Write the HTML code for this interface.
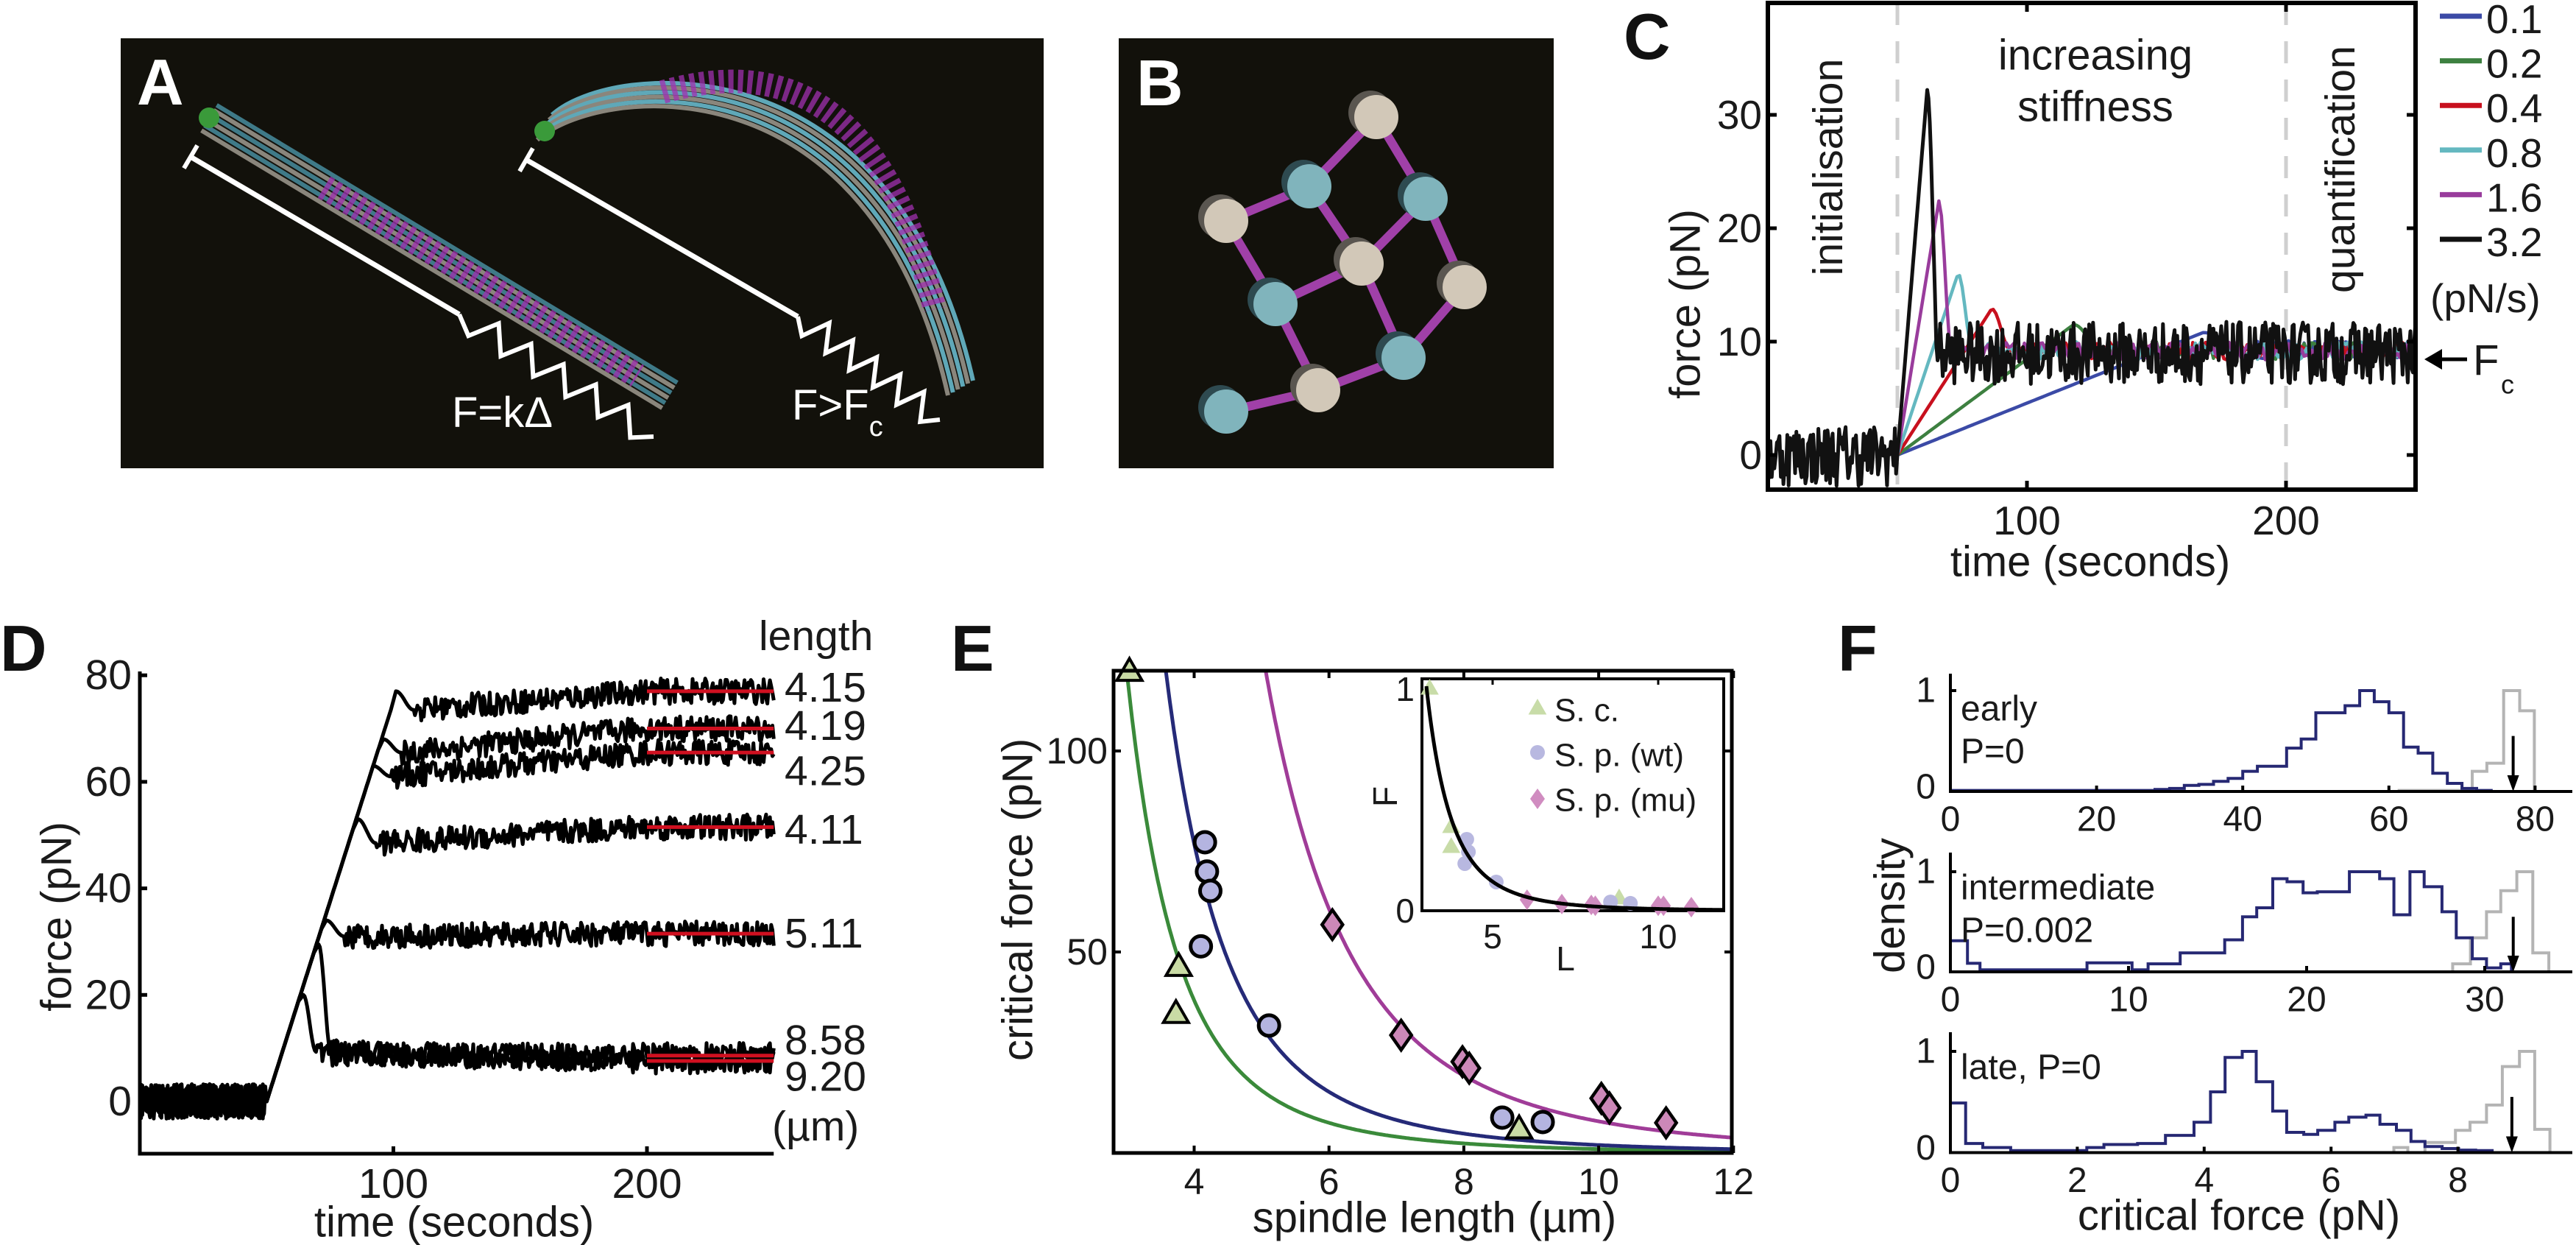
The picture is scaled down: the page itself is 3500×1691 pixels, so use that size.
<!DOCTYPE html>
<html><head><meta charset="utf-8"><title>Spindle mechanics figure</title>
<style>
html,body{margin:0;padding:0;background:#fff;}
svg{display:block;font-family:"Liberation Sans",Arial,sans-serif;}
</style></head>
<body>
<svg id="fig" xmlns="http://www.w3.org/2000/svg" width="3500" height="1691" viewBox="0 0 3500 1691">
  <rect x="0" y="0" width="3500" height="1691" fill="#ffffff"/>
  <g id="panelA">
    <rect x="164" y="52" width="1254" height="584" fill="#12110b"/>
    <text x="186" y="142" font-size="88" font-weight="bold" fill="#fff">A</text>
    <text x="614" y="580" font-size="58" fill="#fff">F=kΔ</text>
    <text x="1076" y="570" font-size="58" fill="#fff">F&gt;F<tspan font-size="38" dy="22">c</tspan></text>
  </g>
  <g id="panelB">
    <rect x="1520" y="52" width="591" height="584" fill="#12110b"/>
    <text x="1544" y="143" font-size="88" font-weight="bold" fill="#fff">B</text>
  </g>
  <g id="panelC">
    <text x="2206" y="80" font-size="88" font-weight="bold" fill="#111">C</text>
  </g>
  <g id="panelD">
    <text x="0" y="911" font-size="88" font-weight="bold" fill="#111">D</text>
  </g>
  <g id="panelE">
    <text x="1292" y="911" font-size="88" font-weight="bold" fill="#111">E</text>
  </g>
  <g id="panelF">
    <text x="2497" y="911" font-size="88" font-weight="bold" fill="#111">F</text>
  </g>
</svg>
<script>
// ---------------- data ----------------
// Panel C
const cRates = ["0.1","0.2","0.4","0.8","1.6","3.2"];
const cPeakTimes = [168, 118, 86.4, 73.4, 66, 61.5];
const cPeakForces = [10.8, 11.5, 12.9, 16, 22.4, 32.2];
const cPlateau = [9.3, 9.2, 9.2, 9.2, 9.2, 9.0];
const cColors = ["#3b4aa6","#3d8040","#c8101e","#64b8c0","#993c9c","#111111"];
const cYTicks = [0, 10, 20, 30];
const cXTicks = [100, 200];
const cPhaseBounds = [50, 200];
// Panel D
const dLengths = ["4.15","4.19","4.25","4.11","5.11","8.58","9.20"];
const dPeakForces = [77, 68, 63, 53, 34, 29.5, 20];
const dPeakTimes = [101, 96, 92, 86, 73.5, 70.5, 64.5];
const dDipForces = [73.5, 65.5, 61, 48.5, 31, 8.8, 9.3];
const dPlateaus = [77, 70, 65.5, 51.5, 31.5, 8.6, 7.6];
const dLabelPos = [77.7, 70.5, 62, 51, 31.5, 11.5, 4.6];
const dYTicks = [0, 20, 40, 60, 80];
const dXTicks = [100, 200];
// Panel E
const eTriL = [3.04, 3.77, 3.73, 8.82];
const eTriF = [119.7, 46.3, 34.6, 5.9];
const eCircL = [4.16, 4.19, 4.24, 4.10, 5.11, 8.57, 9.17];
const eCircF = [77.3, 70.0, 65.2, 51.4, 31.7, 8.8, 7.7];
const eDiaL = [6.05, 7.07, 7.98, 8.08, 10.04, 10.16, 11.0];
const eDiaF = [56.8, 29.3, 22.7, 21.1, 13.6, 11.2, 7.5];
const eFitA = [9720, 19700, 78700];
const eFitColors = ["#3a8a3a","#252a78","#a03c98"];
const eXTicks = [4, 6, 8, 10, 12];
const eYTicks = [50, 100];
const insTriL = [3.1, 3.75, 3.75, 8.82];
const insTriF = [0.99, 0.374, 0.285, 0.056];
const insCircL = [4.22, 4.27, 4.16, 5.11, 8.56, 9.16];
const insCircF = [0.318, 0.262, 0.21, 0.128, 0.039, 0.033];
const insDiaL = [6.04, 7.09, 7.98, 8.1, 10.0, 10.16, 11.0];
const insDiaF = [0.049, 0.03, 0.026, 0.022, 0.022, 0.022, 0.016];
const insXTicks = [5, 10];
const insYTicks = [0, 1];
// Panel F
const fNames = ["early","intermediate","late"];
const fTexts = [["early","P=0"],["intermediate","P=0.002"],["late, P=0"]];
const fXTicks = [[0,20,40,60,80],[0,10,20,30],[0,2,4,6,8]];
const fBlueEdges = [
  [0,28,30,32,34,36,38,40,42,44,46,48,50,52,54,56,58,60,62,64,66,68,70,72,74,80],
  [0,0.96,1.66,7.67,10.2,11.1,12.9,15.4,16.4,17.2,18.1,18.9,19.8,20.6,22.4,24.1,24.9,25.8,26.6,27.6,28.4,29.3,30.1,30.9,31.5,34],
  [0,0.24,0.51,0.95,2.15,2.42,2.95,3.39,3.84,4.1,4.33,4.6,4.82,5.08,5.3,5.57,5.79,6.06,6.28,6.55,6.77,7.03,7.26,7.48,7.75,8.01,8.28,8.54]
];
const fBlueHeights = [
  [0.01,0.02,0.03,0.06,0.07,0.10,0.13,0.2,0.25,0.25,0.43,0.52,0.78,0.78,0.85,1.0,0.89,0.78,0.44,0.38,0.18,0.08,0.03,0.01,0],
  [0.31,0.085,0.02,0.09,0.02,0.08,0.19,0.32,0.55,0.64,0.93,0.9,0.79,0.8,1.0,0.93,0.57,1.0,0.85,0.6,0.34,0.13,0.04,0.08,0],
  [0.49,0.09,0.05,0.02,0.05,0.08,0.09,0.17,0.3,0.6,0.94,1.0,0.7,0.41,0.2,0.18,0.22,0.3,0.35,0.37,0.28,0.22,0.11,0.06,0.04,0.025,0.02]
];
const fGrayEdges = [
  [61.4,71.4,73.4,75.7,77.9,79.9],
  [28.2,29.2,30.1,30.9,31.8,32.7,33.6],
  [6.99,7.21,7.48,7.96,8.19,8.45,8.70,8.97,9.21,9.45]
];
const fGrayHeights = [
  [0.01,0.2,0.28,1.0,0.8],
  [0.08,0.34,0.6,0.81,1.0,0.19],
  [0.05,0,0.1,0.22,0.3,0.47,0.85,1.0,0.23]
];
const fMarked = [77, 31.6, 8.85];

// ---------------- helpers ----------------
const NS = "http://www.w3.org/2000/svg";
function mk(tag, attrs, parent) {
  const e = document.createElementNS(NS, tag);
  for (const k in attrs) e.setAttribute(k, attrs[k]);
  parent.appendChild(e);
  return e;
}
function tx(x, y, s, size, anchor, parent, extra) {
  const a = {x: x, y: y, "font-size": size, "text-anchor": anchor || "start", "dominant-baseline": "central", fill: "#1a1a1a"};
  if (extra) for (const k in extra) a[k] = extra[k];
  const e = mk("text", a, parent);
  e.textContent = s;
  return e;
}
// deterministic texture for measurement noise (visual only)
let seed = 12345;
function jitter() { seed = (seed * 16807) % 2147483647; return seed / 2147483647 - 0.5; }
function pathFrom(pts) { return pts.map((p, i) => (i ? "L" : "M") + p[0].toFixed(1) + "," + p[1].toFixed(1)).join(""); }

// ---------------- Panel A decoration ----------------
(function () {
  const g = document.getElementById("panelA");
  const P0 = [284, 160], P1 = [910, 537];
  const dx = P1[0] - P0[0], dy = P1[1] - P0[1], L = Math.hypot(dx, dy);
  const nx = -dy / L, ny = dx / L;
  const offs = [-20, -12, -4, 4, 12, 20];
  offs.forEach((o, i) => {
    const e = mk("line", {x1: P0[0] + nx * o, y1: P0[1] + ny * o, x2: P1[0] + nx * o, y2: P1[1] + ny * o, stroke: i % 2 ? "#8a867c" : "#3f7a88", "stroke-width": 6}, g);
    
    
  });
  const m1 = mk("line", {x1: P0[0] + dx * 0.25, y1: P0[1] + dy * 0.25, x2: P0[0] + dx * 0.93, y2: P0[1] + dy * 0.93, stroke: "#a030b0", "stroke-width": 34, "stroke-dasharray": "7 6", opacity: 0.75}, g);
  
  
  const gr1 = mk("circle", {cx: P0[0], cy: P0[1], r: 14, fill: "#3a9a3a"}, g);
  
  
  const bent = (o) => "M" + (740 - 0.5 * o) + "," + (173 + 0.85 * o) + " C" + (820 - 0.5 * o) + "," + (100 + 0.85 * o) + " " + (1200 - 0.8 * o) + "," + (60 + 0.6 * o) + " " + (1305 - 0.85 * o) + "," + (527 + 0.5 * o);
  offs.forEach((o, i) => {
    const e = mk("path", {d: bent(o), fill: "none", stroke: i % 2 ? "#8a867c" : "#5fa8b8", "stroke-width": 6}, g);
    
    
  });
  const m2 = mk("path", {d: "M900,125 C1060,80 1200,130 1270,420", fill: "none", stroke: "#a030b0", "stroke-width": 32, "stroke-dasharray": "7 6", opacity: 0.75}, g);
  
  
  const gr2 = mk("circle", {cx: 740, cy: 178, r: 14, fill: "#3a9a3a"}, g);
  
  
  const bars = [[[259, 213], [624, 427], [888, 593]], [[715, 217], [1084, 430], [1277, 570]]];
  bars.forEach((b, bi) => {
    const e = mk("line", {x1: b[0][0], y1: b[0][1], x2: b[1][0], y2: b[1][1], stroke: "#fff", "stroke-width": 7}, g);
    
    
    const ux = b[1][0] - b[0][0], uy = b[1][1] - b[0][1], ul = Math.hypot(ux, uy);
    const px = -uy / ul * 18, py = ux / ul * 18;
    const t = mk("line", {x1: b[0][0] - px, y1: b[0][1] - py, x2: b[0][0] + px, y2: b[0][1] + py, stroke: "#fff", "stroke-width": 6}, g);
    
    
    const pts = [];
    const sx = b[2][0] - b[1][0], sy = b[2][1] - b[1][1], sl = Math.hypot(sx, sy);
    const qx = -sy / sl, qy = sx / sl, n = 12;
    for (let k = 0; k <= n; k++) {
      const a = (k === 0 || k === n) ? 0 : (k % 2 ? 18 : -18);
      pts.push([b[1][0] + sx * k / n + qx * a, b[1][1] + sy * k / n + qy * a]);
    }
    const s = mk("path", {d: pathFrom(pts), fill: "none", stroke: "#fff", "stroke-width": 6}, g);
    
    
  });
})();

// ---------------- Panel B decoration ----------------
(function () {
  const g = document.getElementById("panelB");
  const nodes = [[1870,159,0],[1779,253,1],[1937,270,1],[1666,300,0],[1850,358,0],[1733,413,1],[1990,390,0],[1907,486,1],[1791,530,0],[1666,559,1]];
  const edges = [[0,1],[0,2],[1,3],[1,4],[2,4],[2,6],[3,5],[4,5],[4,7],[6,7],[5,8],[7,8],[8,9]];
  edges.forEach(ed => {
    const a = nodes[ed[0]], b = nodes[ed[1]];
    const e = mk("line", {x1: a[0], y1: a[1], x2: b[0], y2: b[1], stroke: "#a040a8", "stroke-width": 12}, g);
    
    
  });
  nodes.forEach(n => {
    const sh = mk("ellipse", {cx: n[0] - 8, cy: n[1] - 6, rx: 30, ry: 30, fill: n[2] ? "#2e4a50" : "#5a5650"}, g);
    
    
    const c = mk("ellipse", {cx: n[0], cy: n[1], rx: 30, ry: 30, fill: n[2] ? "#80b4bc" : "#d2c8b8"}, g);
    
    
  });
})();

// ---------------- Panel C ----------------
(function () {
  const g = document.getElementById("panelC");
  const X = t => 2402 + t * 3.52;
  const Y = f => 618 - f * 15.4;
  const left = X(0), right = X(250), top = 4, bottom = 665;
  cPhaseBounds.forEach(t => {
    const e = mk("line", {x1: X(t), y1: top, x2: X(t), y2: bottom, stroke: "#cfcfcf", "stroke-width": 5, "stroke-dasharray": "30 22"}, g);
    
    
  });
  function base(i, t) {
    const tp = cPeakTimes[i], fp = cPeakForces[i], pl = cPlateau[i];
    const d = 3 + 0.12 * (tp - 50);
    if (t <= 50) return 0;
    if (t <= tp) return fp * (t - 50) / (tp - 50);
    if (t <= tp + d) { const u = (t - tp) / d; return pl + (fp - pl) * (0.5 + 0.5 * Math.cos(Math.PI * u)); }
    return pl;
  }
  for (let i = 0; i < cRates.length; i++) {
    const pts = [];
    const isBlack = i === cRates.length - 1;
    for (let t = 0; t <= 250; t += isBlack ? 0.5 : 1) {
      let f = base(i, t);
      const tp = cPeakTimes[i];
      if (isBlack) { if (t < 50 || t > tp + 3) f += jitter() * 5.5; }
      else if (t > tp + 4 + 0.12 * (tp - 50)) f += jitter() * 1.6;
      if (!isBlack && t < 50) continue;
      pts.push([X(t), Y(f)]);
    }
    const e = mk("path", {d: pathFrom(pts), fill: "none", stroke: cColors[i], "stroke-width": isBlack ? 5 : 4.5, "stroke-linejoin": "round"}, g);
    
    
  }
  const box = mk("rect", {x: left, y: top, width: right - left, height: bottom - top, fill: "none", stroke: "#000", "stroke-width": 6}, g);
  
  
  cYTicks.forEach(v => {
    const a = mk("line", {x1: left, y1: Y(v), x2: left + 12, y2: Y(v), stroke: "#000", "stroke-width": 5}, g);
    
    
    const b = mk("line", {x1: right, y1: Y(v), x2: right - 12, y2: Y(v), stroke: "#000", "stroke-width": 5}, g);
    
    
    const l = tx(left - 8, Y(v), String(v), 55, "end", g);
    
    
  });
  cXTicks.forEach(v => {
    const a = mk("line", {x1: X(v), y1: bottom, x2: X(v), y2: bottom - 12, stroke: "#000", "stroke-width": 5}, g);
    
    
    const b = mk("line", {x1: X(v), y1: top, x2: X(v), y2: top + 12, stroke: "#000", "stroke-width": 5}, g);
    
    
    const l = tx(X(v), 707, String(v), 55, "middle", g);
    
    
  });
  let e = tx(2840, 763, "time (seconds)", 58, "middle", g);
  
  
  e = tx(0, 0, "force (pN)", 58, "middle", g, {transform: "translate(2290,413) rotate(-90)"});
  
  
  e = tx(0, 0, "initialisation", 57, "middle", g, {transform: "translate(2484,227) rotate(-90)"});
  
  
  e = tx(0, 0, "quantification", 57, "middle", g, {transform: "translate(3180,230) rotate(-90)"});
  
  
  e = tx(2847, 75, "increasing", 58, "middle", g);
  
  
  e = tx(2847, 145, "stiffness", 58, "middle", g);
  
  
  cRates.forEach((r, i) => {
    const y = 22 + i * 60.6;
    const ln = mk("line", {x1: 3315, y1: y, x2: 3372, y2: y, stroke: cColors[i], "stroke-width": 7}, g);
    
    
    const t = tx(3378, y + 4, r, 55, "start", g);
    
    
  });
  e = tx(3302, 405, "(pN/s)", 55, "start", g);
  
  
  e = mk("line", {x1: 3310, y1: 488, x2: 3352, y2: 488, stroke: "#000", "stroke-width": 5}, g);
  
  
  e = mk("path", {d: "M3294,488 L3318,474 L3318,502 Z", fill: "#000"}, g);
  
  
  e = tx(3360, 490, "F", 58, "start", g);
  
  
  e = tx(3398, 522, "c", 36, "start", g);
  
  
})();

// ---------------- Panel D ----------------
(function () {
  const g = document.getElementById("panelD");
  const X = t => 190 + t * 3.445;
  const Y = f => 1496 - f * 7.235;
  const slope = 1.5;
  for (let i = 0; i < dLengths.length; i++) {
    const pts = [];
    const tp = dPeakTimes[i], fp = dPeakForces[i], fd = dDipForces[i], pl = dPlateaus[i];
    const sharp = fd < 15;
    const dt = sharp ? 5 : 7;
    for (let t = 0; t <= 250; t += 0.5) {
      let f;
      if (t < 50) f = jitter() * 6.5;
      else if (t <= tp - 2) f = Math.min(slope * (t - 50), fp);
      else if (t <= tp) f = slope * (tp - 2 - 50) + (fp - slope * (tp - 2 - 50)) * (t - tp + 2) / 2;
      else if (t <= tp + dt) { const u = (t - tp) / dt; f = fd + (fp - fd) * (0.5 + 0.5 * Math.cos(Math.PI * u)); }
      else if (t <= 200) { f = fd + (pl - fd) * (t - tp - dt) / (200 - tp - dt); f += jitter() * 4.6; }
      else f = pl + jitter() * 4.8;
      pts.push([X(t), Y(f)]);
    }
    const e = mk("path", {d: pathFrom(pts), fill: "none", stroke: "#000", "stroke-width": 5, "stroke-linejoin": "round"}, g);
    
    
  }
  dPlateaus.forEach((p, i) => {
    const e = mk("line", {x1: X(200), y1: Y(p), x2: X(250), y2: Y(p), stroke: "#d01020", "stroke-width": 5}, g);
    
    
    const l = tx(1066, Y(dLabelPos[i]), dLengths[i], 57, "start", g);
    
    
  });
  let e = tx(1031, 864, "length", 57, "start", g);
  
  
  e = tx(1049, 1530, "(µm)", 57, "start", g);
  
  
  e = mk("path", {d: "M" + X(0) + "," + 912 + " V1567 H" + X(250), fill: "none", stroke: "#000", "stroke-width": 5}, g);
  
  
  dYTicks.forEach(v => {
    const a = mk("line", {x1: X(0), y1: Y(v), x2: X(0) + 10, y2: Y(v), stroke: "#000", "stroke-width": 5}, g);
    
    
    const l = tx(179, Y(v), String(v), 57, "end", g);
    
    
  });
  dXTicks.forEach(v => {
    const a = mk("line", {x1: X(v), y1: 1567, x2: X(v), y2: 1557, stroke: "#000", "stroke-width": 5}, g);
    
    
    const l = tx(X(v), 1608, String(v), 57, "middle", g);
    
    
  });
  e = tx(617, 1660, "time (seconds)", 58, "middle", g);
  
  
  e = tx(0, 0, "force (pN)", 58, "middle", g, {transform: "translate(77,1245) rotate(-90)"});
  
  
})();

// ---------------- Panel E ----------------
(function () {
  const g = document.getElementById("panelE");
  const X = L => 1622.5 + (L - 4) * 91.6;
  const Y = F => 1566 - F * 5.46;
  const left = 1513, right = 2353, top = 911, bottom = 1566;
  const defs = mk("defs", {}, g);
  const cp = mk("clipPath", {id: "eclip"}, defs);
  mk("rect", {x: left, y: top, width: right - left, height: bottom - top}, cp);
  eFitA.forEach((A, i) => {
    const pts = [];
    for (let L = 2.8; L <= 12; L += 0.02) pts.push([X(L), Y(A / Math.pow(L, 4))]);
    const e = mk("path", {d: pathFrom(pts), fill: "none", stroke: eFitColors[i], "stroke-width": 5, "clip-path": "url(#eclip)"}, g);
    
    
  });
  function tri(x, y, s, fill, stroke, sw, name) {
    const e = mk("path", {d: "M" + x + "," + (y - s) + " L" + (x + s * 0.95) + "," + (y + s * 0.65) + " L" + (x - s * 0.95) + "," + (y + s * 0.65) + " Z", fill: fill, stroke: stroke, "stroke-width": sw}, g);
    
    
  }
  function dia(x, y, w, h, fill, stroke, sw, name) {
    const e = mk("path", {d: "M" + x + "," + (y - h) + " L" + (x + w) + "," + y + " L" + x + "," + (y + h) + " L" + (x - w) + "," + y + " Z", fill: fill, stroke: stroke, "stroke-width": sw}, g);
    
    
  }
  eTriL.forEach((L, i) => tri(X(L), Y(eTriF[i]), 18, "#c9dba5", "#000", 4, "sc-point"));
  eCircL.forEach((L, i) => {
    const e = mk("circle", {cx: X(L), cy: Y(eCircF[i]), r: 14, fill: "#b4b4e0", stroke: "#000", "stroke-width": 5}, g);
    
    
  });
  eDiaL.forEach((L, i) => dia(X(L), Y(eDiaF[i]), 14, 20, "#cc88b8", "#000", 4.5, "sp-mu-point"));
  let e = mk("rect", {x: left, y: top, width: right - left, height: bottom - top, fill: "none", stroke: "#000", "stroke-width": 5}, g);
  
  
  eXTicks.forEach(v => {
    const a = mk("line", {x1: X(v), y1: bottom, x2: X(v), y2: bottom - 10, stroke: "#000", "stroke-width": 4}, g);
    
    
    const b = mk("line", {x1: X(v), y1: top, x2: X(v), y2: top + 10, stroke: "#000", "stroke-width": 4}, g);
    
    
    const l = tx(X(v), 1605, String(v), 50, "middle", g);
    
    
  });
  eYTicks.forEach(v => {
    const a = mk("line", {x1: left, y1: Y(v), x2: left + 10, y2: Y(v), stroke: "#000", "stroke-width": 4}, g);
    
    
    const b = mk("line", {x1: right, y1: Y(v), x2: right - 10, y2: Y(v), stroke: "#000", "stroke-width": 4}, g);
    
    
    const l = tx(1505, Y(v), String(v), 50, "end", g);
    
    
  });
  e = tx(1949, 1654, "spindle length (µm)", 58, "middle", g);
  
  
  e = tx(0, 0, "critical force (pN)", 58, "middle", g, {transform: "translate(1383,1222) rotate(-90)"});
  
  
  const XI = L => 1803 + L * 45;
  const YI = F => 1237 - F * 305;
  e = mk("rect", {x: 1932, y: 922, width: 410, height: 315, fill: "#fff", stroke: "#000", "stroke-width": 4}, g);
  
  
  insTriL.forEach((L, i) => tri(XI(L), YI(insTriF[i]), 13, "#c8dca8", "none", 0, "inset-sc-point"));
  insCircL.forEach((L, i) => {
    const c = mk("circle", {cx: XI(L), cy: YI(insCircF[i]), r: 10, fill: "#b8b8e0"}, g);
    
    
  });
  insDiaL.forEach((L, i) => dia(XI(L), YI(insDiaF[i]), 10, 14, "#d08cc0", "none", 0, "inset-sp-mu-point"));
  const ipts = [];
  for (let L = 3.0; L <= 11.95; L += 0.02) ipts.push([XI(L), YI(Math.pow(3 / L, 4))]);
  e = mk("path", {d: pathFrom(ipts), fill: "none", stroke: "#000", "stroke-width": 5}, g);
  
  
  insXTicks.forEach(v => {
    const a = mk("line", {x1: XI(v), y1: 922, x2: XI(v), y2: 930, stroke: "#000", "stroke-width": 3}, g);
    
    
    const l = tx(XI(v), 1272, String(v), 46, "middle", g);
    
    
  });
  insYTicks.forEach(v => {
    const l = tx(1922, YI(v) + (v ? 4 : 0), String(v), 46, "end", g);
    
    
  });
  e = tx(2127, 1302, "L", 46, "middle", g);
  
  
  e = tx(0, 0, "F", 46, "middle", g, {transform: "translate(1882,1082) rotate(-90)"});
  
  
  tri(2089, 962, 13, "#c8dca8", "none", 0, "legend-sc-marker");
  e = mk("circle", {cx: 2089, cy: 1022, r: 10, fill: "#b8b8e0"}, g);
  
  
  dia(2089, 1085, 10, 14, "#d08cc0", "none", 0, "legend-mu-marker");
  e = tx(2112, 965, "S. c.", 44, "start", g);
  
  
  e = tx(2112, 1026, "S. p. (wt)", 44, "start", g);
  
  
  e = tx(2112, 1087, "S. p. (mu)", 44, "start", g);
  
  
})();

// ---------------- Panel F ----------------
(function () {
  const g = document.getElementById("panelF");
  const scale = [9.93, 24.2, 86.2];
  const y0 = [1075, 1320, 1565.5];
  const hs = [137, 136, 137.5];
  const tops = [915, 1158, 1402];
  const lx = 2650, rx = 3495;
  for (let p = 0; p < 3; p++) {
    const X = v => lx + v * scale[p];
    const Y = h => y0[p] - h * hs[p];
    function hist(edges, heights, color, name) {
      let d = "M" + X(edges[0]) + "," + Y(0);
      for (let i = 0; i < heights.length; i++) d += " V" + Y(heights[i]).toFixed(1) + " H" + X(edges[i + 1]).toFixed(1);
      d += " V" + Y(0);
      const e = mk("path", {d: d, fill: "none", stroke: color, "stroke-width": 4}, g);
      
      
    }
    hist(fGrayEdges[p], fGrayHeights[p], "#b4b4b4", fNames[p] + "-reference-histogram");
    hist(fBlueEdges[p], fBlueHeights[p], "#262873", fNames[p] + "-histogram");
    let e = mk("path", {d: "M" + lx + "," + tops[p] + " V" + y0[p] + " H" + rx, fill: "none", stroke: "#000", "stroke-width": 4}, g);
    
    
    e = mk("line", {x1: lx, y1: Y(1), x2: lx + 8, y2: Y(1), stroke: "#000", "stroke-width": 4}, g);
    
    
    e = tx(2630, Y(1), "1", 48, "end", g);
    
    
    e = tx(2630, Y(0) - 6, "0", 48, "end", g);
    
    
    fXTicks[p].forEach(v => {
      const a = mk("line", {x1: X(v), y1: y0[p], x2: X(v), y2: y0[p] - 8, stroke: "#000", "stroke-width": 4}, g);
      
      
      const l = tx(X(v), y0[p] + 38, String(v), 48, "middle", g);
      
      
    });
    const ax = X(fMarked[p]);
    e = mk("line", {x1: ax, y1: y0[p] - 0.55 * hs[p], x2: ax, y2: y0[p] - 12, stroke: "#000", "stroke-width": 4}, g);
    
    
    e = mk("path", {d: "M" + (ax - 8) + "," + (y0[p] - 22) + " L" + (ax + 8) + "," + (y0[p] - 22) + " L" + ax + "," + y0[p] + " Z", fill: "#000"}, g);
    
    
    fTexts[p].forEach((s, k) => {
      const t = tx(2664, tops[p] + 48 + k * 58, s, 48, "start", g);
      
      
    });
  }
  let e = tx(3042, 1651, "critical force (pN)", 58, "middle", g);
  
  
  e = tx(0, 0, "density", 58, "middle", g, {transform: "translate(2568,1230) rotate(-90)"});
  
  
})();
</script>
</body></html>
